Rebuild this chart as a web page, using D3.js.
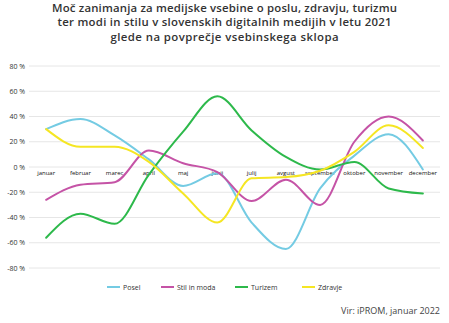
<!DOCTYPE html>
<html>
<head>
<meta charset="utf-8">
<script src="https://cdn.jsdelivr.net/npm/d3@7"></script>
<style>
  html, body { margin: 0; padding: 0; background: #fff; }
  svg { display: block; font-family: "Open Sans", sans-serif; }
</style>
</head>
<body>
<svg id="chart" width="449" height="323"></svg>
<script>
// Months of 2021
const months = ["januar", "februar", "marec", "april", "maj", "junij", "julij",
  "avgust", "september", "oktober", "november", "december"];

// Deviation from the content-section average, in %
const posel   = [30, 38, 25, 6, -15, -5, -44, -65, -17, 9, 26, -2];
const stil    = [-26, -14, -12, 13, 3, -4, -27, -10, -30, 20, 40, 21];
const turizem = [-56, -37, -45, -6, 28, 56, 29, 8, -2, 4, -17, -21];
const zdravje = [30, 16, 16, 4, -21, -44, -9, -8, -3, 12, 33, 15];

const seriesNames  = ["Posel", "Stil in moda", "Turizem", "Zdravje"];
const seriesValues = [posel, stil, turizem, zdravje];
const seriesColors = ["#74cbe3", "#c553a6", "#2db94b", "#f5e623"];

const yTicks = [80, 60, 40, 20, 0, -20, -40, -60, -80];

const titleLines = [
  "Moč zanimanja za medijske vsebine o poslu, zdravju, turizmu",
  "ter modi in stilu v slovenskih digitalnih medijih v letu 2021",
  "glede na povprečje vsebinskega sklopa"
];
const source = "Vir: iPROM, januar 2022";

const svg = d3.select("#chart");
const plot = { left: 29, right: 440, top: 66, bottom: 268 };

const x = d3.scaleBand().domain(months).range([plot.left, plot.right]);
const y = d3.scaleLinear().domain([-80, 80]).range([plot.bottom, plot.top]);
const xc = m => x(m) + x.bandwidth() / 2;

// Title
svg.append("g").selectAll("text").data(titleLines).join("text")
  .attr("x", 224.5).attr("y", (d, i) => 11.5 + i * 14.6)
  .attr("text-anchor", "middle")
  .attr("font-size", 11.4).attr("font-weight", 600).attr("fill", "#333")
  .attr("textLength", (d, i) => [345, 334, 228][i])
  .attr("lengthAdjust", "spacing")
  .text(d => d);

// Horizontal grid lines and value labels
const yAxis = svg.append("g");
yAxis.selectAll("line").data(yTicks).join("line")
  .attr("x1", plot.left).attr("x2", plot.right)
  .attr("y1", d => y(d)).attr("y2", d => y(d))
  .attr("stroke", "#e6e6e6").attr("stroke-width", 1);
yAxis.selectAll("text").data(yTicks).join("text")
  .attr("x", 25).attr("y", d => y(d) + 2.5)
  .attr("text-anchor", "end")
  .attr("font-size", 7).attr("fill", "#333")
  .text(d => d + " %");

// Month labels sit just under the zero line
svg.append("g").selectAll("text").data(months).join("text")
  .attr("x", d => xc(d)).attr("y", y(0) + 8)
  .attr("text-anchor", "middle")
  .attr("font-size", 6).attr("fill", "#111")
  .text(d => d);

// Smoothed series lines
const line = d3.line()
  .x((d, i) => xc(months[i]))
  .y(d => y(d))
  .curve(d3.curveMonotoneX);

svg.append("g").selectAll("path").data(seriesValues).join("path")
  .attr("d", d => line(d))
  .attr("fill", "none")
  .attr("stroke", (d, i) => seriesColors[i])
  .attr("stroke-width", 2)
  .attr("stroke-linejoin", "round")
  .attr("stroke-linecap", "round");

// Legend
const legendX = [107, 161, 235, 302];
const legend = svg.append("g").selectAll("g").data(seriesNames).join("g")
  .attr("transform", (d, i) => `translate(${legendX[i]},287)`);
legend.append("line")
  .attr("x1", 0).attr("x2", 13).attr("y1", 0).attr("y2", 0)
  .attr("stroke", (d, i) => seriesColors[i]).attr("stroke-width", 2);
legend.append("text")
  .attr("x", 16).attr("y", 2.5)
  .attr("font-size", 7).attr("fill", "#333")
  .text(d => d);

// Source note
svg.append("text")
  .attr("x", 440).attr("y", 314)
  .attr("text-anchor", "end")
  .attr("font-size", 9).attr("fill", "#444")
  .text(source);
</script>
</body>
</html>
